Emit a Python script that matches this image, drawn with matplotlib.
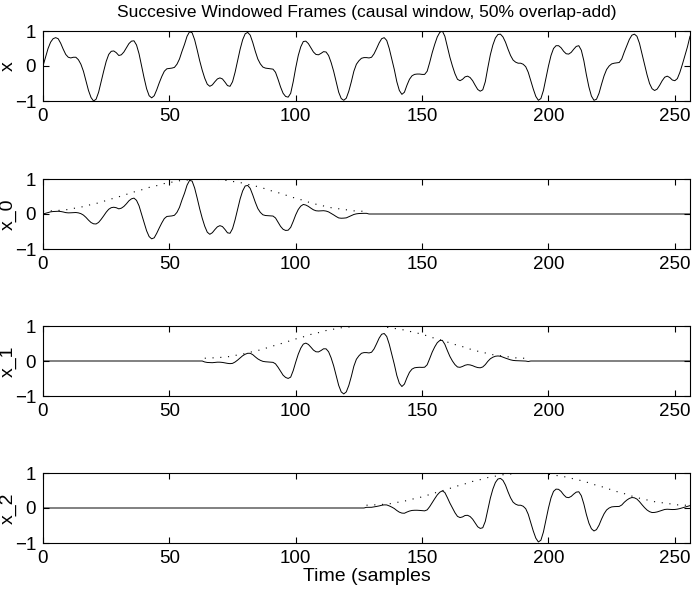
import numpy as np
import matplotlib
matplotlib.use('Agg')
import matplotlib.pyplot as plt

plt.rcParams['font.family'] = ['Liberation Sans', 'DejaVu Sans']
plt.rcParams['font.size'] = 13.5

# input signal, samples 0..256
x = [
    0.00, 0.25, 0.50, 0.68, 0.78, 0.81, 0.78, 0.65, 0.48, 0.33,
    0.25, 0.23, 0.25, 0.25, 0.18, 0.05, -0.15, -0.42, -0.70, -0.90,
    -1.00, -0.95, -0.75, -0.45, -0.15, 0.13, 0.33, 0.42, 0.43, 0.38,
    0.30, 0.32, 0.40, 0.52, 0.64, 0.71, 0.72, 0.60, 0.35, 0.00,
    -0.34, -0.65, -0.85, -0.91, -0.85, -0.68, -0.48, -0.30, -0.15, -0.08,
    -0.07, -0.06, -0.04, 0.05, 0.20, 0.42, 0.62, 0.85, 0.98, 0.95,
    0.75, 0.46, 0.15, -0.12, -0.35, -0.52, -0.58, -0.54, -0.45, -0.37,
    -0.34, -0.37, -0.46, -0.56, -0.58, -0.45, -0.18, 0.15, 0.48, 0.75,
    0.92, 0.96, 0.88, 0.67, 0.42, 0.20, 0.06, -0.03, -0.06, -0.07,
    -0.08, -0.09, -0.18, -0.38, -0.60, -0.78, -0.87, -0.89, -0.78, -0.45,
    -0.05, 0.30, 0.55, 0.70, 0.71, 0.64, 0.52, 0.40, 0.33, 0.32,
    0.36, 0.41, 0.40, 0.30, 0.10, -0.15, -0.45, -0.75, -0.93, -0.98,
    -0.92, -0.72, -0.45, -0.15, 0.05, 0.15, 0.22, 0.24, 0.24, 0.23,
    0.25, 0.35, 0.50, 0.66, 0.78, 0.81, 0.73, 0.50, 0.20, -0.10,
    -0.45, -0.70, -0.81, -0.75, -0.55, -0.38, -0.28, -0.24, -0.23, -0.23,
    -0.24, -0.24, -0.15, 0.10, 0.38, 0.62, 0.83, 0.96, 1.00, 0.85,
    0.55, 0.25, 0.00, -0.22, -0.38, -0.42, -0.38, -0.31, -0.29, -0.33,
    -0.42, -0.55, -0.67, -0.72, -0.68, -0.45, -0.05, 0.32, 0.60, 0.80,
    0.90, 0.91, 0.83, 0.68, 0.48, 0.30, 0.17, 0.11, 0.08, 0.08,
    0.05, -0.02, -0.18, -0.42, -0.66, -0.87, -0.98, -0.93, -0.70, -0.35,
    0.00, 0.30, 0.50, 0.58, 0.58, 0.52, 0.42, 0.35, 0.34, 0.39,
    0.48, 0.56, 0.58, 0.45, 0.15, -0.25, -0.60, -0.86, -0.98, -0.95,
    -0.78, -0.52, -0.28, -0.10, 0.00, 0.06, 0.08, 0.09, 0.10, 0.20,
    0.40, 0.58, 0.76, 0.88, 0.91, 0.85, 0.65, 0.35, 0.05, -0.25,
    -0.50, -0.65, -0.70, -0.66, -0.55, -0.42, -0.32, -0.29, -0.33, -0.40,
    -0.42, -0.36, -0.18, 0.05, 0.30, 0.55, 0.85,
]

# rising half of the window (dotted curve), samples 0..64
win_half = [
    0.08, 0.08, 0.08, 0.09, 0.09, 0.09, 0.10, 0.11, 0.12, 0.12,
    0.13, 0.15, 0.16, 0.17, 0.18, 0.20, 0.21, 0.23, 0.25, 0.27,
    0.28, 0.30, 0.32, 0.34, 0.36, 0.39, 0.41, 0.43, 0.45, 0.47,
    0.49, 0.52, 0.54, 0.56, 0.59, 0.61, 0.63, 0.65, 0.67, 0.69,
    0.72, 0.74, 0.76, 0.78, 0.80, 0.81, 0.83, 0.85, 0.87, 0.88,
    0.90, 0.91, 0.92, 0.93, 0.95, 0.96, 0.96, 0.97, 0.98, 0.99,
    0.99, 0.99, 1.00, 1.00, 1.00,
]
frame_starts = [0, 64, 128]
ylabels = ['x', 'x_0', 'x_1', 'x_2']

x = np.array(x)
n = np.arange(len(x))
w = np.array(win_half + win_half[-2::-1])  # symmetric, 129 points

fig = plt.figure(figsize=(6.93, 5.93), dpi=100)
tops = [31, 179, 326, 473]


def style(ax, label):
    ax.set_xlim(0, 256)
    ax.set_ylim(-1, 1)
    ax.set_xticks([0, 50, 100, 150, 200, 250])
    ax.set_yticks([-1, 0, 1])
    ax.tick_params(direction='in', top=True, right=True, length=4, width=0.8,
                   pad=5, labelsize=13.5)
    ax.set_ylabel(label, fontsize=14)
    ax.yaxis.set_label_coords(-0.040, 0.5)
    for s in ax.spines.values():
        s.set_linewidth(0.8)


axes = []
for t in tops:
    ax = fig.add_axes([43 / 693, 1 - (t + 70) / 593, 647 / 693, 70 / 593])
    axes.append(ax)

axes[0].plot(n, x, 'k-', lw=0.7)
style(axes[0], ylabels[0])
axes[0].set_title('Succesive Windowed Frames (causal window, 50% overlap-add)',
                  fontsize=12.5, pad=10)

for k, start in enumerate(frame_starts):
    ax = axes[k + 1]
    frame = np.zeros(len(x))
    seg = slice(start, min(start + len(w), len(x)))
    m = seg.stop - seg.start
    frame[seg] = x[seg] * w[:m]
    ax.plot(n[seg], w[:m], color='k', lw=0.8, linestyle=(0, (1, 6)))
    ax.plot(n, frame, 'k-', lw=0.7)
    style(ax, ylabels[k + 1])

axes[-1].set_xlabel('Time (samples', fontsize=14, labelpad=1)

fig.savefig('out.png', dpi=100)
